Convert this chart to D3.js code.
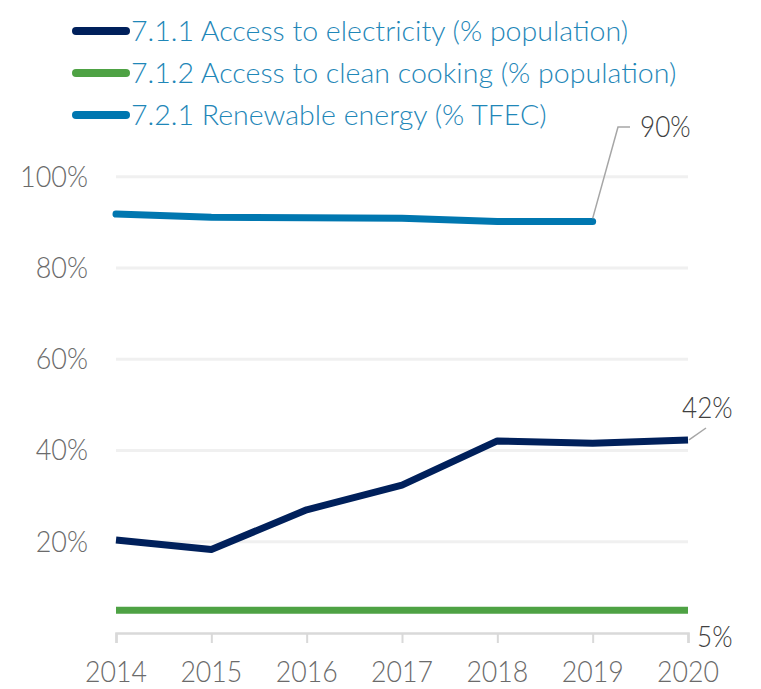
<!DOCTYPE html>
<html>
<head>
<meta charset="utf-8">
<script src="https://cdn.jsdelivr.net/npm/d3@7"></script>
<style>
  html, body { margin: 0; padding: 0; background: #fff; }
  svg text { font-family: Lato, "Open Sans", sans-serif; font-weight: 300; }
</style>
</head>
<body>
<svg id="chart" width="761" height="689"></svg>
<script>
const years = [2014, 2015, 2016, 2017, 2018, 2019, 2020];
const electricity = [20.4, 18.3, 27.0, 32.4, 42.1, 41.6, 42.3];
const cleanCooking = [5, 5, 5, 5, 5, 5, 5];
const renewable = [91.8, 91.1, 91.0, 90.9, 90.2, 90.2, null];
const seriesNames = [
  "7.1.1 Access to electricity (% population)",
  "7.1.2 Access to clean cooking (% population)",
  "7.2.1 Renewable energy (% TFEC)"
];
const seriesColors = ["#00205b", "#4ea244", "#0077b0"];
const yTicks = [20, 40, 60, 80, 100];

const svg = d3.select("#chart");
const x = d3.scaleLinear().domain([2014, 2020]).range([116, 688]);
const y = d3.scaleLinear().domain([0, 100]).range([633, 176.7]);

function ctext(g, tx, ty, str, anchor, size, color, sx) {
  return g.append("text")
    .attr("transform", `translate(${tx},${ty}) scale(${sx},1)`)
    .attr("text-anchor", anchor)
    .attr("font-size", size)
    .attr("fill", color)
    .text(str);
}

// gridlines
svg.append("g").selectAll("line").data(yTicks).join("line")
  .attr("x1", x(2014)).attr("x2", x(2020))
  .attr("y1", d => y(d)).attr("y2", d => y(d))
  .attr("stroke", "#f0f0f0").attr("stroke-width", 3);

// y labels
const yl = svg.append("g");
yTicks.forEach(t => ctext(yl, 88, y(t) + 10, t + "%", "end", 29, "#6b6b6b", 0.93));

// x axis
const xAxis = d3.axisBottom(x).tickValues(years).tickFormat(d3.format("d")).tickSize(10).tickPadding(0);
const xg = svg.append("g").attr("transform", `translate(0,${y(0)})`).call(xAxis);
xg.select(".domain").attr("stroke", "#d9d9d9").attr("stroke-width", 2.5);
xg.selectAll(".tick line").attr("stroke", "#d9d9d9").attr("stroke-width", 2);
xg.selectAll(".tick text").remove();
const xl = svg.append("g");
years.forEach(yr => ctext(xl, x(yr), 682, String(yr), "middle", 30, "#6b6b6b", 0.89));

// lines
const line = d3.line().defined(d => d.v != null).x(d => x(d.yr)).y(d => y(d.v));
const allSeries = [electricity, cleanCooking, renewable];
const order = [1, 0, 2];
order.forEach(i => {
  const data = years.map((yr, j) => ({ yr, v: allSeries[i][j] }));
  svg.append("path").datum(data)
    .attr("d", line)
    .attr("fill", "none")
    .attr("stroke", seriesColors[i])
    .attr("stroke-width", 7)
    .attr("stroke-linejoin", "round")
    .attr("stroke-linecap", i === 2 ? "round" : "butt");
});

// annotations
const ann = svg.append("g");
ann.append("polyline")
  .attr("points", `${x(2019)},${y(renewable[5]) - 3} 618,127 630,127`)
  .attr("fill", "none").attr("stroke", "#a6a6a6").attr("stroke-width", 1.5);
ctext(ann, 640, 137, "90%", "start", 29, "#404040", 0.9);

ann.append("line")
  .attr("x1", x(2020) + 1).attr("y1", y(electricity[6]))
  .attr("x2", 706).attr("y2", 428)
  .attr("stroke", "#a6a6a6").attr("stroke-width", 1.5);
ctext(ann, 682, 418, "42%", "start", 29, "#404040", 0.9);

ctext(ann, 697, 647, "5%", "start", 29, "#404040", 0.9);

// legend
const lg = svg.append("g");
const legY = [31, 73, 115];
seriesNames.forEach((name, i) => {
  lg.append("line")
    .attr("x1", 76).attr("x2", 126)
    .attr("y1", legY[i]).attr("y2", legY[i])
    .attr("stroke", seriesColors[i]).attr("stroke-width", 8)
    .attr("stroke-linecap", "round");
  ctext(lg, 131, legY[i] + 10, name, "start", 28, "#1f87b8", 1.02);
});
</script>
</body>
</html>
